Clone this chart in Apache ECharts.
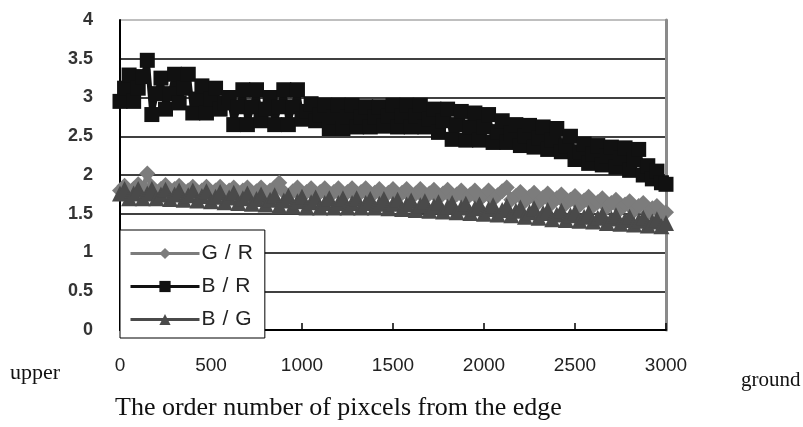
<!DOCTYPE html>
<html>
<head>
<meta charset="utf-8">
<script src="https://cdn.jsdelivr.net/npm/echarts@6/dist/echarts.min.js"></script>
<style>
html, body { margin: 0; padding: 0; background: #fff; }
#cc { width: 803px; height: 427px; }
</style>
</head>
<body>
<div id="cc"></div>
<script>
// sample spacing along the edge (pixels)
var step = 25;
var xTicks = [0, 500, 1000, 1500, 2000, 2500, 3000];
var yTicks = [0, 0.5, 1, 1.5, 2, 2.5, 3, 3.5, 4];

var gr = [
    1.8, 1.86, 1.76, 1.82, 1.88, 1.78, 2.02, 1.85, 1.76, 1.82,
    1.87, 1.76, 1.82, 1.86, 1.75, 1.8, 1.85, 1.75, 1.8, 1.85,
    1.74, 1.8, 1.85, 1.74, 1.8, 1.84, 1.74, 1.8, 1.84, 1.73,
    1.79, 1.84, 1.73, 1.8, 1.84, 1.9, 1.78, 1.73, 1.79, 1.84,
    1.73, 1.78, 1.83, 1.72, 1.78, 1.83, 1.72, 1.78, 1.83, 1.72,
    1.78, 1.83, 1.72, 1.78, 1.83, 1.72, 1.77, 1.82, 1.72, 1.77,
    1.82, 1.71, 1.77, 1.82, 1.71, 1.76, 1.82, 1.7, 1.76, 1.81,
    1.7, 1.76, 1.81, 1.7, 1.75, 1.8, 1.69, 1.75, 1.8, 1.68,
    1.74, 1.8, 1.68, 1.74, 1.79, 1.84, 1.68, 1.73, 1.78, 1.66,
    1.72, 1.77, 1.65, 1.71, 1.76, 1.64, 1.7, 1.75, 1.63, 1.68,
    1.73, 1.61, 1.67, 1.72, 1.6, 1.65, 1.7, 1.58, 1.64, 1.68,
    1.56, 1.62, 1.66, 1.54, 1.6, 1.64, 1.51, 1.57, 1.6, 1.49,
    1.52
];

var br = [
    2.95, 3.12, 3.29, 2.95, 3.12, 3.27, 3.48, 2.78, 3.05, 3.25,
    2.85, 3.05, 3.3, 2.93, 3.12, 3.3, 2.8, 2.98, 3.15, 2.8,
    2.98, 3.12, 2.85, 2.93, 3.0, 2.65, 2.88, 3.1, 2.65, 2.88,
    3.1, 2.7, 2.85, 3.0, 2.65, 2.88, 3.1, 2.65, 2.88, 3.1,
    2.72, 2.82, 2.92, 2.7, 2.78, 2.9, 2.6, 2.75, 2.9, 2.6,
    2.75, 2.9, 2.62, 2.75, 2.88, 2.62, 2.75, 2.88, 2.63, 2.76,
    2.9, 2.62, 2.76, 2.9, 2.62, 2.76, 2.9, 2.62, 2.72, 2.85,
    2.55, 2.7, 2.85, 2.46, 2.65, 2.82, 2.45, 2.62, 2.8, 2.45,
    2.62, 2.78, 2.42, 2.56, 2.7, 2.42, 2.54, 2.65, 2.38, 2.5,
    2.64, 2.36, 2.48, 2.62, 2.33, 2.45, 2.6, 2.3, 2.38, 2.5,
    2.2, 2.3, 2.4, 2.15, 2.27, 2.38, 2.13, 2.25, 2.36, 2.1,
    2.22, 2.35, 2.06, 2.2, 2.33, 2.0, 2.12, 1.95, 2.05, 1.9,
    1.88
];

var bg = [
    1.76, 1.82, 1.7, 1.76, 1.82, 1.7, 1.76, 1.82, 1.7, 1.75,
    1.81, 1.69, 1.75, 1.8, 1.68, 1.74, 1.8, 1.67, 1.73, 1.79,
    1.66, 1.72, 1.78, 1.65, 1.71, 1.77, 1.64, 1.7, 1.76, 1.63,
    1.69, 1.75, 1.62, 1.68, 1.74, 1.6, 1.67, 1.73, 1.6, 1.66,
    1.72, 1.58, 1.65, 1.71, 1.58, 1.64, 1.7, 1.58, 1.64, 1.7,
    1.58, 1.64, 1.7, 1.58, 1.64, 1.69, 1.58, 1.63, 1.69, 1.57,
    1.63, 1.68, 1.56, 1.62, 1.67, 1.55, 1.61, 1.66, 1.54, 1.6,
    1.65, 1.53, 1.59, 1.64, 1.52, 1.58, 1.63, 1.51, 1.57, 1.62,
    1.5, 1.56, 1.61, 1.49, 1.55, 1.6, 1.48, 1.54, 1.58, 1.46,
    1.52, 1.57, 1.45, 1.51, 1.55, 1.43, 1.49, 1.54, 1.42, 1.48,
    1.52, 1.41, 1.46, 1.51, 1.4, 1.45, 1.49, 1.38, 1.44, 1.48,
    1.37, 1.42, 1.46, 1.36, 1.41, 1.45, 1.35, 1.4, 1.43, 1.34,
    1.38
];

function pairs(arr) {
    return arr.map(function (v, i) { return [i * step, v]; });
}

var chart = echarts.init(document.getElementById('cc'));

var option = {
    animation: false,
    grid: { left: 120, right: 137, top: 20, bottom: 97 },
    legend: {
        orient: 'vertical',
        left: 120,
        top: 230,
        padding: [13, 12, 8, 9],
        itemGap: 12,
        itemWidth: 69,
        itemHeight: 14,
        backgroundColor: '#fff',
        borderColor: '#000',
        borderWidth: 1,
        formatter: function (name) { return name.split('/').join('\u2004/\u2004'); },
        textStyle: { fontFamily: 'Liberation Sans', fontSize: 21, color: '#222', padding: [0, 0, 0, -3] },
        data: [
            { name: 'G/R', itemStyle: { color: '#7c7c7c' }, lineStyle: { width: 3 } },
            { name: 'B/R', itemStyle: { color: '#111' }, lineStyle: { width: 3 } },
            { name: 'B/G', itemStyle: { color: '#4a4a4a' }, lineStyle: { width: 3 } }
        ]
    },
    xAxis: {
        type: 'value',
        min: 0,
        max: 3000,
        interval: 500,
        axisLine: { show: true, onZero: false, lineStyle: { color: '#000', width: 2 } },
        axisTick: { show: true, inside: true, length: 7, lineStyle: { color: '#000', width: 1.5 } },
        axisLabel: {
            margin: 26,
            fontFamily: 'Liberation Sans',
            fontSize: 19,
            color: '#222',
            formatter: function (v) { return xTicks.indexOf(v) >= 0 ? String(v) : ''; }
        },
        splitLine: { show: false }
    },
    yAxis: [{
        type: 'value',
        min: 0,
        max: 4,
        interval: 0.5,
        axisLine: { show: true, lineStyle: { color: '#000', width: 2 } },
        axisTick: { show: false },
        axisLabel: {
            margin: 27,
            fontFamily: 'Liberation Sans',
            fontSize: 18,
            fontWeight: 'bold',
            color: '#333',
            padding: [9, 0, 0, 0],
            formatter: function (v) { return yTicks.indexOf(v) >= 0 ? String(v) : ''; }
        },
        splitLine: {
            show: true,
            lineStyle: { color: ['#000', '#000', '#000', '#000', '#000', '#000', '#000', '#000', '#aaa'], width: 1.5 }
        }
    }, {
        type: 'value',
        position: 'right',
        min: 0,
        max: 4,
        interval: 0.5,
        axisLine: { show: true, lineStyle: { color: '#8a8a8a', width: 3 } },
        axisTick: { show: false },
        axisLabel: { show: false },
        splitLine: { show: false }
    }],
    series: [
        {
            name: 'G/R',
            type: 'line',
            data: pairs(gr),
            symbol: 'diamond',
            symbolSize: 16,
            showAllSymbol: true,
            lineStyle: { color: '#7c7c7c', width: 5 },
            itemStyle: { color: '#7c7c7c' }
        },
        {
            name: 'B/R',
            type: 'line',
            data: pairs(br),
            symbol: 'rect',
            symbolSize: 15,
            showAllSymbol: true,
            lineStyle: { color: '#111', width: 5 },
            itemStyle: { color: '#111' }
        },
        {
            name: 'B/G',
            type: 'line',
            data: pairs(bg),
            symbol: 'triangle',
            symbolSize: 16,
            showAllSymbol: true,
            lineStyle: { color: '#4a4a4a', width: 5 },
            itemStyle: { color: '#4a4a4a' }
        }
    ],
    graphic: [
        { type: 'text', left: 10, top: 362, style: { text: 'upper', fontFamily: 'Liberation Serif', fontSize: 22, fill: '#111' } },
        { type: 'text', left: 741, top: 370, style: { text: 'ground', fontFamily: 'Liberation Serif', fontSize: 21, fill: '#111' } },
        { type: 'text', left: 115, top: 395, style: { text: 'The order number of pixcels from the edge', fontFamily: 'Liberation Serif', fontSize: 26, fill: '#111' } }
    ]
};

chart.setOption(option);
</script>
</body>
</html>
